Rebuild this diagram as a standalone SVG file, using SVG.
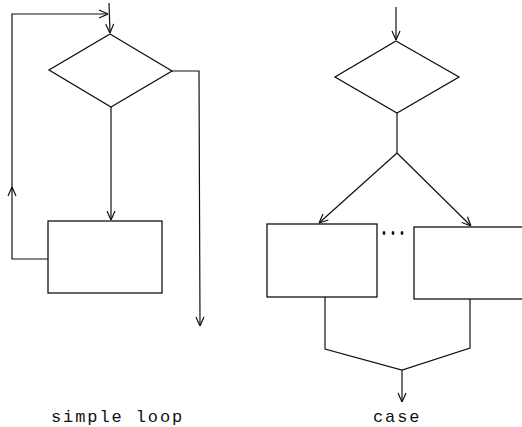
<svg xmlns="http://www.w3.org/2000/svg" width="522" height="427" viewBox="0 0 522 427">
  <style>
    .shape { fill: none; stroke: #111; stroke-width: 1.3; }
    .edge { fill: none; stroke: #111; stroke-width: 1.2; }
    .label { font-family: "Liberation Mono", "DejaVu Sans Mono", monospace; font-size: 17px; fill: #111; letter-spacing: 1.9px; }
  </style>
  <defs>
    <marker id="arrow" viewBox="0 0 10 10" refX="10" refY="5" markerWidth="10" markerHeight="10" markerUnits="userSpaceOnUse" orient="auto">
      <polyline points="1,1 10,5 1,9" fill="none" stroke="#111" stroke-width="1.2"/>
    </marker>
  </defs>

  <rect width="522" height="427" fill="#fff"/>

  <!-- simple loop -->
  <g id="loop-decision">
    <polygon class="shape" points="110,34 172,71 111,107 49,70"/>
  </g>
  <g id="loop-body">
    <rect class="shape" x="48" y="221" width="114" height="72"/>
  </g>

  <!-- case -->
  <g id="case-decision">
    <polygon class="shape" points="396,41 459,77 397,113 335,77"/>
  </g>
  <g id="case-branch-1">
    <rect class="shape" x="267" y="224" width="110" height="73"/>
  </g>
  <g id="case-ellipsis">
    <ellipse cx="384" cy="233" rx="1.4" ry="2" fill="#111"/>
    <ellipse cx="393" cy="233" rx="1.4" ry="2" fill="#111"/>
    <ellipse cx="402" cy="233" rx="1.4" ry="2" fill="#111"/>
  </g>
  <g id="case-branch-n">
    <rect class="shape" x="414" y="227" width="120" height="72"/>
  </g>

  <g id="connectors">
    <!-- simple loop -->
    <line class="edge" x1="109" y1="3" x2="110" y2="33" marker-end="url(#arrow)"/>
    <line class="edge" x1="111" y1="107" x2="111" y2="220" marker-end="url(#arrow)"/>
    <polyline class="edge" points="48,259 12,259 12,187" marker-end="url(#arrow)"/>
    <polyline class="edge" points="12,190 12,14 108,14" marker-end="url(#arrow)"/>
    <polyline class="edge" points="172,71 199,71 200,326" marker-end="url(#arrow)"/>
    <!-- case -->
    <line class="edge" x1="396" y1="7" x2="396" y2="40" marker-end="url(#arrow)"/>
    <line class="edge" x1="397" y1="113" x2="397" y2="153"/>
    <line class="edge" x1="397" y1="153" x2="319" y2="223" marker-end="url(#arrow)"/>
    <line class="edge" x1="397" y1="153" x2="471" y2="226" marker-end="url(#arrow)"/>
    <polyline class="edge" points="325,297 325,349 402,370 470,348 470,299"/>
    <line class="edge" x1="402" y1="370" x2="402" y2="402" marker-end="url(#arrow)"/>
  </g>

  <text class="label" x="51" y="422">simple loop</text>
  <text class="label" x="373" y="422">case</text>
</svg>
